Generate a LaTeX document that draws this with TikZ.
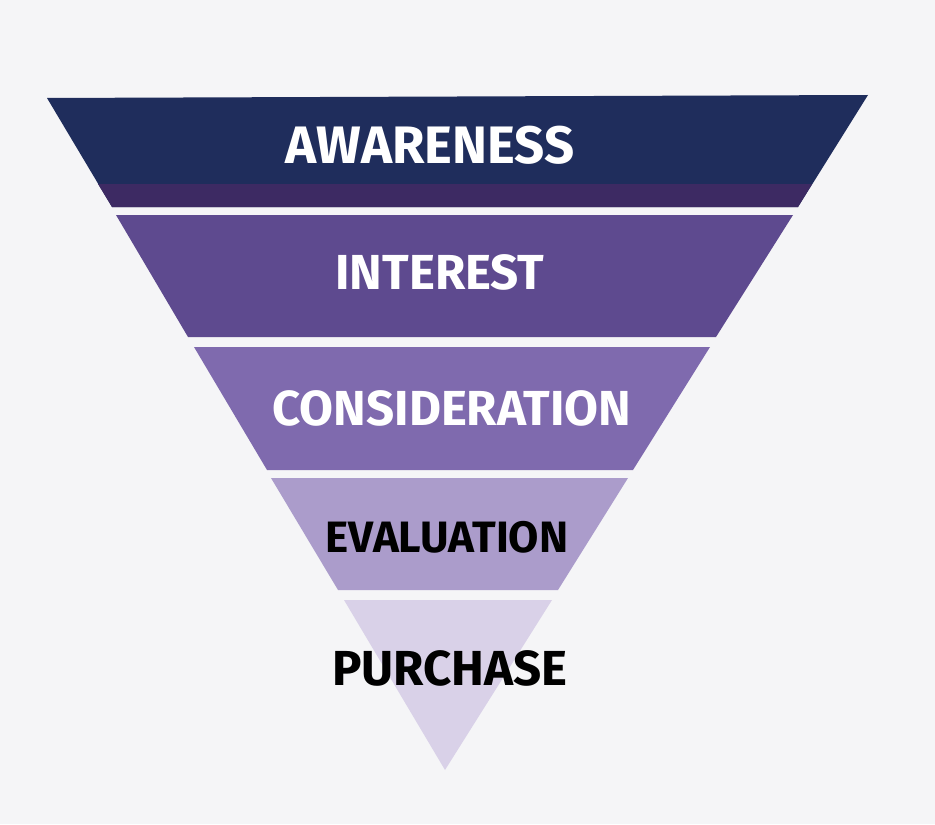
\documentclass[tikz,border=0pt]{standalone}
\usepackage{fontspec}
\setmainfont{Fira Sans}
\definecolor{bg}{HTML}{F5F5F7}
\definecolor{c1}{HTML}{1F2D5C}
\definecolor{c1b}{HTML}{3D2A63}
\definecolor{c2}{HTML}{5E4A8F}
\definecolor{c3}{HTML}{7F6AAE}
\definecolor{c4}{HTML}{AB9CCB}
\definecolor{c5}{HTML}{D9D1E8}
\begin{document}
\begin{tikzpicture}[x=0.02cm,y=-0.02cm,
  lab/.style={font=\fontsize{28}{28}\selectfont\bfseries}]
\useasboundingbox (0,0) rectangle (935,824);
\fill[bg] (0,0) rectangle (935,824);
\fill[c1] (47,98) -- (868,95) -- (798,207) -- (112,207) -- cycle;
\fill[c1b] (98,184) -- (812,184) -- (798,207) -- (112,207) -- cycle;
\fill[c2] (116,215) -- (793,215) -- (716,337) -- (188,337) -- cycle;
\fill[c3] (194,347) -- (710,347) -- (633,470) -- (267,470) -- cycle;
\fill[c4] (271,478) -- (628,478) -- (558,590) -- (338,590) -- cycle;
\fill[c5] (344,600) -- (552,600) -- (445,770) -- cycle;
\node[lab,white,font=\fontsize{30}{30}\selectfont\bfseries] (a) at (430,145) {AWARENESS};
\node[lab,white] (i) at (440,272) {INTEREST};
\node[lab,white] (c) at (452,408) {CONSIDERATION};
\node[lab,black,font=\fontsize{25}{25}\selectfont\bfseries] (e) at (447,537) {EVALUATION};
\node[lab,black] (p) at (450,668) {PURCHASE};
\end{tikzpicture}
\end{document}
